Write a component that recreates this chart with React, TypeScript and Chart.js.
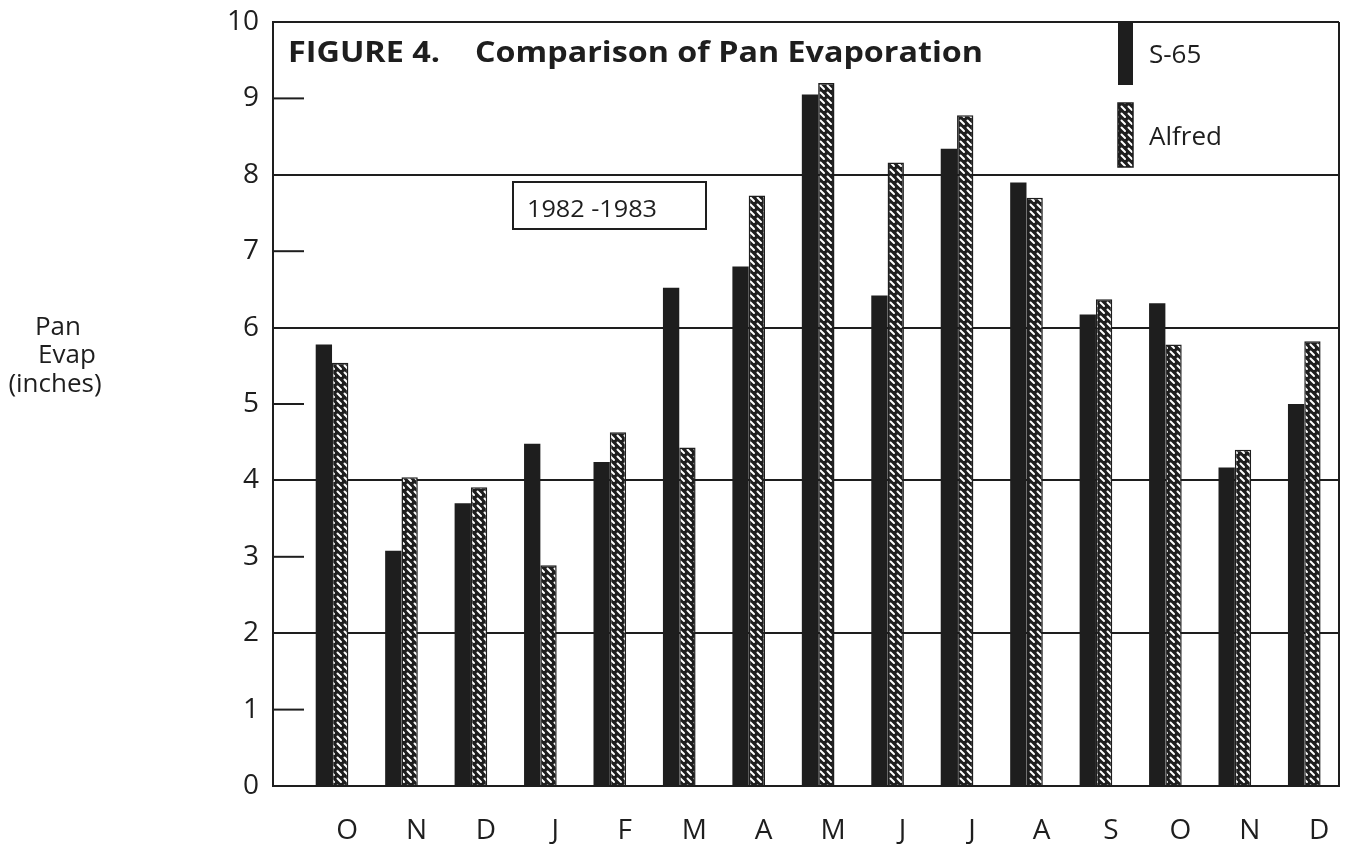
import React, { useEffect, useRef } from "react";
import { Chart, registerables } from "chart.js";

Chart.register(...registerables);

const MONTHS = ["O", "N", "D", "J", "F", "M", "A", "M", "J", "J", "A", "S", "O", "N", "D"];
const S65 = [5.78, 3.08, 3.7, 4.48, 4.24, 6.52, 6.8, 9.05, 6.42, 8.34, 7.9, 6.17, 6.32, 4.17, 5.0];
const ALFRED = [5.54, 4.04, 3.91, 2.89, 4.63, 4.43, 7.73, 9.2, 8.16, 8.78, 7.7, 6.37, 5.78, 4.4, 5.82];
const SERIES_NAMES = ["S-65", "Alfred"];
const TITLE_PARTS = ["FIGURE 4.", "Comparison of Pan Evaporation"];
const PERIOD = "1982 -1983";
const Y_TITLE = ["Pan", "Evap", "(inches)"];
const Y_MIN = 0;
const Y_MAX = 10;

const INK = "#1e1e1e";
const FONT = "'Open Sans', sans-serif";

function makeHatch(): CanvasPattern | string {
  const c = document.createElement("canvas");
  c.width = 7;
  c.height = 7;
  const g = c.getContext("2d");
  if (!g) return INK;
  g.fillStyle = INK;
  g.fillRect(0, 0, 7, 7);
  g.strokeStyle = "#ffffff";
  g.lineWidth = 2;
  g.lineCap = "round";
  g.beginPath();
  g.moveTo(1.5, 1.5);
  g.lineTo(5, 5);
  g.stroke();
  return g.createPattern(c, "repeat") || INK;
}

// draw text stretched horizontally to a target width (reference type is wide)
function wideText(ctx: CanvasRenderingContext2D, text: string, x: number, y: number, w: number) {
  const m = ctx.measureText(text).width;
  ctx.save();
  ctx.translate(x, y);
  ctx.scale(w / m, 1);
  ctx.fillText(text, 0, 0);
  ctx.restore();
}

export default function App() {
  const ref = useRef<HTMLCanvasElement | null>(null);

  useEffect(() => {
    const canvas = ref.current;
    if (!canvas) return;
    const hatch = makeHatch();

    const decor = {
      id: "decor",
      afterDraw(chart: any) {
        const { ctx, chartArea } = chart;
        const y = chart.scales.y;
        ctx.save();
        ctx.strokeStyle = INK;
        ctx.lineWidth = 2;
        // short inward ticks at odd values
        for (let v = Y_MIN + 1; v < Y_MAX; v += 2) {
          const py = y.getPixelForValue(v);
          ctx.beginPath();
          ctx.moveTo(chartArea.left, py);
          ctx.lineTo(chartArea.left + 31, py);
          ctx.stroke();
        }
        // right border
        ctx.beginPath();
        ctx.moveTo(chartArea.right, chartArea.top);
        ctx.lineTo(chartArea.right, chartArea.bottom);
        ctx.stroke();

        ctx.fillStyle = INK;
        ctx.textBaseline = "alphabetic";
        ctx.textAlign = "left";
        // title
        ctx.font = `bold 28px ${FONT}`;
        wideText(ctx, TITLE_PARTS[0], 288, 62, 152);
        wideText(ctx, TITLE_PARTS[1], 475, 62, 508);

        // legend
        ctx.fillStyle = INK;
        ctx.fillRect(1118, chartArea.top, 15, 85 - chartArea.top);
        ctx.fillStyle = hatch as any;
        ctx.fillRect(1118, 103, 15, 64);
        ctx.lineWidth = 1.5;
        ctx.strokeRect(1118, 103, 15, 64);
        ctx.fillStyle = INK;
        ctx.font = `26px ${FONT}`;
        ctx.fillText(SERIES_NAMES[0], 1149, 63);
        ctx.fillText(SERIES_NAMES[1], 1149, 145);

        // period box
        ctx.lineWidth = 2;
        ctx.strokeRect(513, 182, 193, 47);
        ctx.font = `24px ${FONT}`;
        wideText(ctx, PERIOD, 527, 217, 130);

        // y title
        ctx.textAlign = "center";
        ctx.font = `26px ${FONT}`;
        ctx.fillText(Y_TITLE[0], 58, 335);
        ctx.fillText(Y_TITLE[1], 67, 363);
        ctx.fillText(Y_TITLE[2], 55, 392);
        ctx.restore();
      },
    };

    const whiteBg = {
      id: "whiteBg",
      beforeDraw(chart: any) {
        const { ctx, width, height } = chart;
        ctx.save();
        ctx.fillStyle = "#ffffff";
        ctx.fillRect(0, 0, width, height);
        ctx.restore();
      },
    };

    const chart = new Chart(canvas, {
      type: "bar",
      data: {
        datasets: [
          {
            label: SERIES_NAMES[0],
            data: S65.map((v, i) => ({ x: i, y: v })),
            backgroundColor: INK,
            borderWidth: 0,
            categoryPercentage: 0.47,
            barPercentage: 1,
          },
          {
            label: SERIES_NAMES[1],
            data: ALFRED.map((v, i) => ({ x: i, y: v })),
            backgroundColor: hatch as any,
            borderColor: INK,
            borderWidth: 1.5,
            categoryPercentage: 0.47,
            barPercentage: 1,
          },
        ],
      },
      options: {
        animation: false,
        responsive: false,
        maintainAspectRatio: false,
        layout: { padding: { left: 0, right: 8, top: 22, bottom: 0 } },
        plugins: {
          legend: { display: false },
          title: { display: false },
          tooltip: { enabled: false },
        },
        scales: {
          x: {
            type: "linear",
            min: -0.85,
            max: 14.5,
            offset: false,
            grid: { display: false, offset: false, drawTicks: false },
            border: { display: true, color: INK, width: 2 },
            afterBuildTicks: (s: any) => {
              s.ticks = MONTHS.map((_, i) => ({ value: i }));
            },
            afterFit: (s: any) => {
              s.height = 67;
              s.paddingLeft = 0;
              s.paddingRight = 0;
            },
            ticks: {
              color: INK,
              font: { family: FONT, size: 28 },
              padding: 28,
              labelOffset: 15,
              autoSkip: false,
              maxRotation: 0,
              callback: (v: any) => MONTHS[Number(v)] ?? "",
            },
          },
          y: {
            min: Y_MIN,
            max: Y_MAX,
            afterFit: (s: any) => {
              s.width = 273;
              s.paddingTop = 0;
              s.paddingBottom = 0;
            },
            grid: {
              drawTicks: false,
              lineWidth: 2,
              color: (c: any) =>
                c.tick && c.tick.value > 0 && c.tick.value % 2 === 0 ? INK : "rgba(0,0,0,0)",
            },
            border: { display: true, color: INK, width: 2 },
            ticks: {
              stepSize: 1,
              color: INK,
              font: { family: FONT, size: 28 },
              padding: 14,
            },
          },
        },
      },
      plugins: [whiteBg, decor],
    });

    return () => {
      chart.destroy();
    };
  }, []);

  return (
    <div style={{ position: "fixed", left: 0, top: 0, width: 1347, height: 853, background: "#fff" }}>
      <canvas ref={ref} width={1347} height={853} style={{ display: "block" }} />
    </div>
  );
}
